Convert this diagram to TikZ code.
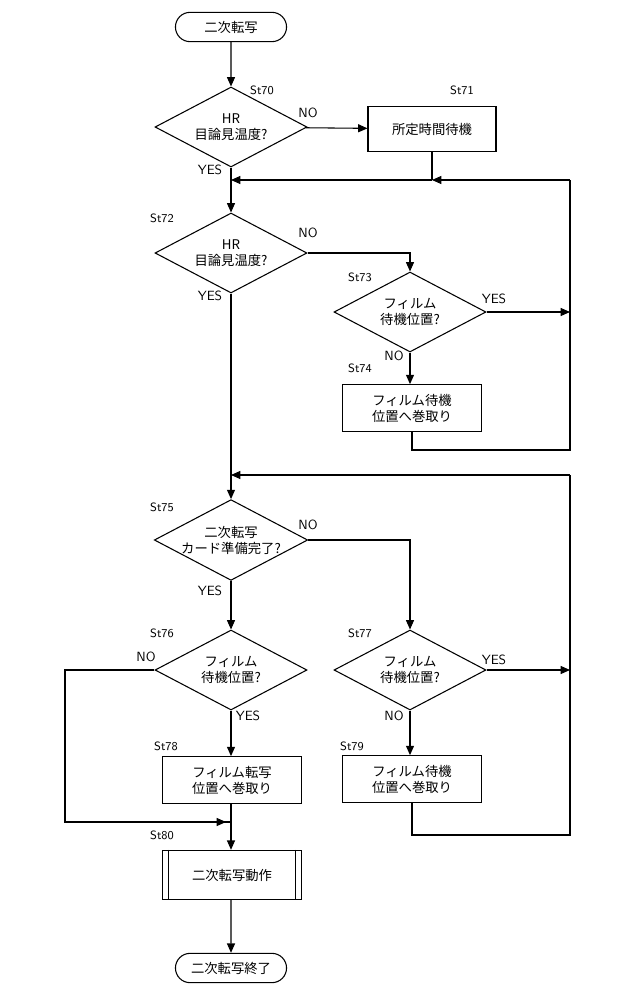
\documentclass[tikz,border=0pt]{standalone}
\usepackage{fontspec}
\setmainfont{Liberation Sans}
\newfontfamily\cjk{Noto Sans CJK JP}
\usetikzlibrary{shapes.geometric,shapes.misc,arrows.meta}
\begin{document}
\begin{tikzpicture}[x=0.75pt,y=-0.75pt,font=\cjk\fontsize{10}{12}\selectfont,
 line width=0.8pt, >={Triangle[length=7pt,width=6pt]},
 dia/.style={draw,diamond,aspect=1.9,minimum width=114pt,minimum height=60pt,inner sep=0pt,align=center},
 box/.style={draw,minimum width=104pt,minimum height=35pt,align=center},
 term/.style={draw,rounded rectangle,minimum width=90pt,minimum height=22pt},
 lab/.style={font=\sffamily\fontsize{9}{10}\selectfont},
 lbl/.style={font=\sffamily\fontsize{10}{12}\selectfont}]
\useasboundingbox (0,0) rectangle (640,989);
\node[term] (s) at (231,27) {二次転写};
\node[dia] (d70) at (231,127) {HR\\目論見温度?};
\node[draw,minimum width=96pt,minimum height=34pt] (b71) at (432,129) {所定時間待機};
\node[dia] (d72) at (231,253) {HR\\目論見温度?};
\node[dia] (d73) at (410,312) {フィルム\\待機位置?};
\node[box] (b74) at (412,408) {フィルム待機\\位置へ巻取り};
\node[dia] (d75) at (231,540) {二次転写\\カード準備完了?};
\node[dia] (d76) at (231,670) {フィルム\\待機位置?};
\node[dia] (d77) at (410,670) {フィルム\\待機位置?};
\node[box] (b78) at (232,780) {フィルム転写\\位置へ巻取り};
\node[box] (b79) at (412,779) {フィルム待機\\位置へ巻取り};
\node[draw,minimum width=104pt,minimum height=37pt] (b80) at (232,875) {二次転写動作};
\draw (b80.north west)++(6,0) -- ++(0,50);
\draw (b80.north east)++(-6,0) -- ++(0,50);
\node[term] (e) at (231,968) {二次転写終了};
\coordinate (j1) at (231,180); \coordinate (j2) at (231,475);
\coordinate (r1) at (570,180); \coordinate (r2) at (570,475);
\coordinate (m) at (231,822);
% connectors
\draw[->] (s) -- (d70);
\draw[->] (d70) -- (b71);
\draw (d70.south) -- (j1);
\draw[->] (j1) -- (d72);
\draw (b71.south) -- (432,180);
\draw[->] (r1) -- (432,180);
\draw[->] (432,180) -- (j1);
\draw[->] (d72.east) -| (d73.north);
\draw[->] (d73.east) -- (r1 |- d73.east);
\draw (r1 |- d73.east) -- (r1);
\draw[->] (d73.south) -- (d73.south |- b74.north);
\draw (b74.south) -- (412,450) -| (r1 |- d73.east);
\draw (d72.south) -- (j2);
\draw[->] (r2) -- (j2);
\draw[->] (j2) -- (d75);
\draw[->] (d75.east) -| (d77.north);
\draw[->] (d75.south) -- (d76.north);
\draw[->] (d76.south) -- (d76.south |- b78.north);
\draw (d76.west) -- (65,670) -- (65,822) -- (m);
\draw[->] (65,822) -- (226,822);
\draw (b78.south -| m) -- (m);
\draw[->] (m) -- (b80.north -| m);
\draw[->] (b80.south -| e) -- (e);
\draw[->] (d77.east) -- (r2 |- d77.east);
\draw (r2 |- d77.east) -- (r2);
\draw[->] (d77.south) -- (d77.south |- b79.north);
\draw (b79.south) -- (412,835) -| (r2 |- d77.east);
% labels
\node[lab] at (262,90) {St70};
\node[lab] at (462,90) {St71};
\node[lab] at (162,218) {St72};
\node[lab] at (360,277) {St73};
\node[lab] at (360,368) {St74};
\node[lab] at (162,507) {St75};
\node[lab] at (162,633) {St76};
\node[lab] at (360,633) {St77};
\node[lab] at (166,746) {St78};
\node[lab] at (352,746) {St79};
\node[lab] at (162,835) {St80};
\node[lbl] at (308,113) {NO};
\node[lbl] at (210,170) {YES};
\node[lbl] at (308,233) {NO};
\node[lbl] at (210,296) {YES};
\node[lbl] at (494,299) {YES};
\node[lbl] at (394,356) {NO};
\node[lbl] at (308,525) {NO};
\node[lbl] at (210,591) {YES};
\node[lbl] at (146,657) {NO};
\node[lbl] at (248,716) {YES};
\node[lbl] at (494,660) {YES};
\node[lbl] at (394,716) {NO};
\end{tikzpicture}
\end{document}
